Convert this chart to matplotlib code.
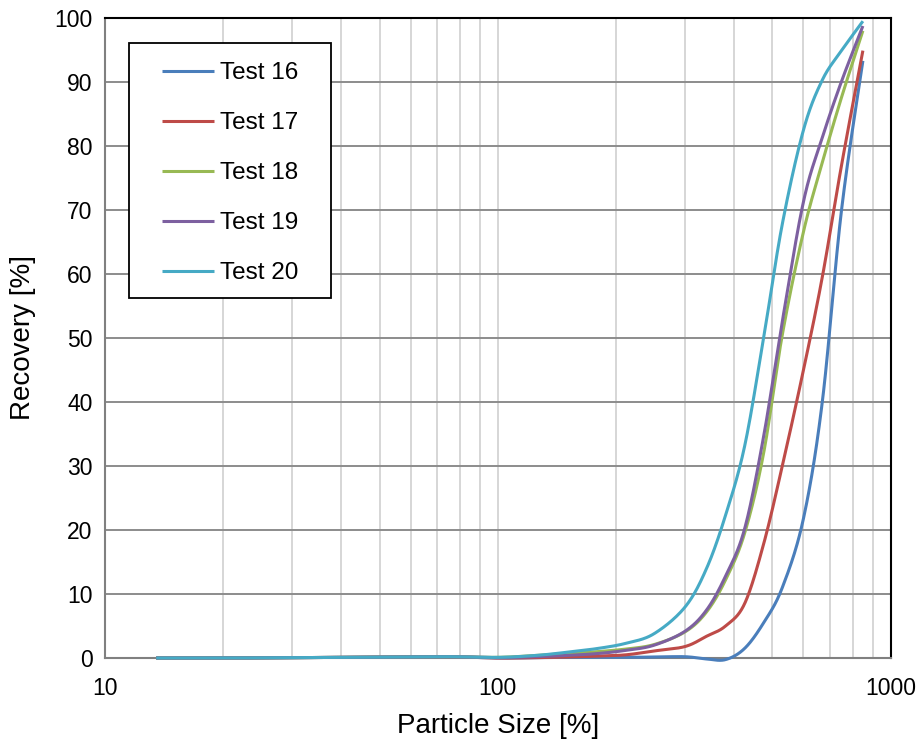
import matplotlib
matplotlib.use("Agg")
import matplotlib.pyplot as plt
from matplotlib.patches import Rectangle
import numpy as np

# Particle sizes and recovery values
sizes = [13.5, 20, 30, 40, 53, 75, 100, 125, 150, 180, 212, 250,
         300, 340, 380, 425, 475, 530, 600, 670, 750, 850]
test16 = [0, 0, 0.05, 0.1, 0.15, 0.2, 0, 0.05, 0.1, 0.1, 0.1, 0.15,
          0.2, -0.15, -0.25, 1.5, 5.5, 11.0, 21.8, 40.0, 70.0, 93.3]
test17 = [0, 0, 0.05, 0.1, 0.15, 0.2, 0, 0.05, 0.15, 0.3, 0.5, 1.1,
          1.8, 3.4, 5.0, 8.5, 17.8, 30.0, 45.0, 59.5, 77.0, 94.9]
test18 = [0, 0, 0.05, 0.1, 0.15, 0.2, 0.1, 0.4, 0.7, 1.0, 1.4, 2.1,
          4.1, 7.2, 12.2, 19.5, 32.0, 50.5, 66.6, 77.4, 87.6, 98.0]
test19 = [0, 0, 0.05, 0.1, 0.15, 0.2, 0.05, 0.2, 0.4, 0.7, 1.2, 2.0,
          4.2, 7.5, 12.8, 20.2, 34.6, 52.6, 71.3, 81.3, 90.1, 98.75]
test20 = [0, 0, 0.05, 0.1, 0.15, 0.2, 0.1, 0.4, 0.9, 1.5, 2.3, 3.8,
          8.0, 14.0, 22.3, 33.1, 50.0, 67.8, 82.5, 90.3, 94.9, 99.5]

labels = ['Test 16', 'Test 17', 'Test 18', 'Test 19', 'Test 20']
colors = ['#4A7EBB', '#BE4B48', '#98B954', '#7D60A0', '#46AAC5']


def smooth(xs, ys, n=30):
    # Excel-like smoothed line (Catmull-Rom in log-x space)
    u = np.log10(np.asarray(xs, float))
    y = np.asarray(ys, float)
    pu, py = [], []
    for i in range(len(u) - 1):
        i0 = max(i - 1, 0)
        i3 = min(i + 2, len(u) - 1)
        mu1 = (u[i + 1] - u[i0]) / 2
        my1 = (y[i + 1] - y[i0]) / 2
        mu2 = (u[i3] - u[i]) / 2
        my2 = (y[i3] - y[i]) / 2
        t = np.linspace(0, 1, n, endpoint=False)
        h00 = 2 * t**3 - 3 * t**2 + 1
        h10 = t**3 - 2 * t**2 + t
        h01 = -2 * t**3 + 3 * t**2
        h11 = t**3 - t**2
        pu.extend(h00 * u[i] + h10 * mu1 + h01 * u[i + 1] + h11 * mu2)
        py.extend(h00 * y[i] + h10 * my1 + h01 * y[i + 1] + h11 * my2)
    pu.append(u[-1])
    py.append(y[-1])
    return 10 ** np.array(pu), np.array(py)


plt.rcParams['font.family'] = ['Liberation Sans', 'DejaVu Sans']

fig = plt.figure(figsize=(9.21, 7.43), dpi=100)
ax = fig.add_axes([0.114, 0.1144, 0.853, 0.8614])

for vals, lab, col in zip([test16, test17, test18, test19, test20], labels, colors):
    sx, sy = smooth(sizes, vals)
    ax.plot(sx, sy, color=col, lw=2.2, label=lab, clip_on=False, zorder=3,
            solid_capstyle='butt')

ax.set_xscale('log')
ax.set_xlim(10, 1000)
ax.set_ylim(0, 100)
ax.set_yticks(range(0, 101, 10))
ax.set_xticks([10, 100, 1000])
ax.set_xticklabels(['10', '100', '1000'])
ax.xaxis.set_minor_formatter(matplotlib.ticker.NullFormatter())

ax.grid(True, which='major', axis='y', color='#8c8c8c', lw=1.4)
ax.grid(True, which='both', axis='x', color='#d0d0d0', lw=1.2)
ax.set_axisbelow(True)

ax.tick_params(which='both', length=0, labelsize=16.5)
ax.tick_params(axis='x', pad=14)
ax.tick_params(axis='y', pad=9)
for s in ['top', 'right']:
    ax.spines[s].set_color('black')
    ax.spines[s].set_linewidth(1.5)
for s in ['left', 'bottom']:
    ax.spines[s].set_color('#808080')
    ax.spines[s].set_linewidth(1.5)

ax.set_xlabel('Particle Size [%]', fontsize=20, labelpad=9)
ax.set_ylabel('Recovery [%]', fontsize=20, labelpad=13)

# legend box
box = Rectangle((0.0306, 0.5625), 0.2575, 0.3985, transform=ax.transAxes,
                facecolor='white', edgecolor='black', lw=1.3, zorder=4.5)
ax.add_patch(box)
leg = ax.legend(loc='upper left', bbox_to_anchor=(0.0726, 0.9306), borderaxespad=0,
                borderpad=0, fontsize=17.5, frameon=False,
                handlelength=2.14, handletextpad=0.25, labelspacing=1.15)
leg.set_zorder(5)

fig.savefig('out.png', dpi=100)
